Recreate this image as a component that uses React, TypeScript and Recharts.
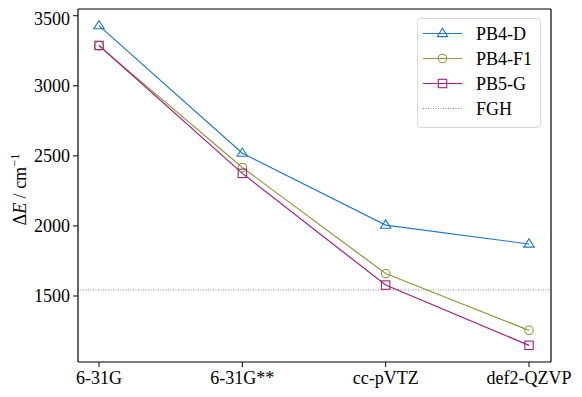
import React from "react";
import { LineChart, Line, XAxis, YAxis, ReferenceLine } from "recharts";

const categories = ["6-31G", "6-31G**", "cc-pVTZ", "def2-QZVP"];
const pb4d = [3429, 2519, 2006, 1871];
const pb4f1 = [3285, 2417, 1660, 1255];
const pb5g = [3288, 2375, 1578, 1148];
const fgh = 1543;
const yTicks = [1500, 2000, 2500, 3000, 3500];

const data = categories.map((c, i) => ({ name: c, d: pb4d[i], f1: pb4f1[i], g: pb5g[i] }));

const BLUE = "#1f78c4";
const OLIVE = "#8a9a3c";
const MAGENTA = "#a0217e";
const FONT = "'Liberation Serif', 'DejaVu Serif', serif";
const YDOMAIN = [1029, 3548];

const Tri = (props: any) => {
  const { cx, cy, stroke } = props;
  if (cx == null || cy == null) return null;
  const r = 5.2;
  return (
    <polygon
      points={`${cx},${cy - r} ${cx - r},${cy + r * 0.6} ${cx + r},${cy + r * 0.6}`}
      fill="none"
      stroke={stroke}
      strokeWidth={1.1}
    />
  );
};
const Circ = (props: any) => {
  const { cx, cy, stroke } = props;
  if (cx == null || cy == null) return null;
  return <circle cx={cx} cy={cy} r={4.3} fill="none" stroke={stroke} strokeWidth={1.1} />;
};
const Sq = (props: any) => {
  const { cx, cy, stroke } = props;
  if (cx == null || cy == null) return null;
  return <rect x={cx - 4.2} y={cy - 4.2} width={8.4} height={8.4} fill="none" stroke={stroke} strokeWidth={1.1} />;
};

const legendItems = [
  { label: "PB4-D", color: BLUE, kind: "tri" },
  { label: "PB4-F1", color: OLIVE, kind: "circ" },
  { label: "PB5-G", color: MAGENTA, kind: "sq" },
  { label: "FGH", color: "#777", kind: "dot" },
];

const LegendBox = () => (
  <div
    style={{
      position: "absolute",
      left: 409,
      top: 10,
      width: 124,
      height: 110,
      border: "1px solid #d8d8d8",
      borderRadius: 4,
      background: "white",
      boxSizing: "border-box",
    }}
  >
    <svg width={124} height={110} style={{ position: "absolute", left: -1, top: -1 }}>
      {legendItems.map((it, i) => {
        const y = 15.5 + i * 25;
        const x0 = 6, x1 = 45, cx = 25.5;
        return (
          <g key={it.label}>
            <line
              x1={x0}
              x2={x1}
              y1={y}
              y2={y}
              stroke={it.color}
              strokeWidth={it.kind === "dot" ? 0.9 : 1.2}
              strokeDasharray={it.kind === "dot" ? "1 1.5" : undefined}
            />
            {it.kind === "tri" && <Tri cx={cx} cy={y} stroke={it.color} />}
            {it.kind === "circ" && <Circ cx={cx} cy={y} stroke={it.color} />}
            {it.kind === "sq" && <Sq cx={cx} cy={y} stroke={it.color} />}
            <text x={59} y={y + 6} fontFamily={FONT} fontSize={18} fill="#000">
              {it.label}
            </text>
          </g>
        );
      })}
    </svg>
  </div>
);

const YLabel = (props: any) => {
  const vb = props.viewBox || {};
  const cy = (vb.y ?? 0) + (vb.height ?? 0) / 2 + 4;
  const x = 18;
  return (
    <text
      x={x}
      y={cy}
      transform={`rotate(-90, ${x}, ${cy})`}
      textAnchor="middle"
      fontFamily={FONT}
      fontSize={18}
      fill="#000"
    >
      <tspan>Δ</tspan>
      <tspan fontStyle="italic">E</tspan>
      <tspan> / cm</tspan>
      <tspan fontSize={12.5} dy={-7}>−1</tspan>
    </text>
  );
};

export default function App() {
  return (
    <div style={{ width: 574, height: 389, position: "relative" }}>
      <LineChart
        width={574}
        height={389}
        data={data}
        margin={{ top: 0, right: 30, bottom: 0, left: 0 }}
      >
        <XAxis
          dataKey="name"
          xAxisId="b"
          padding={{ left: 21, right: 22 }}
          height={35}
          tickLine={{ stroke: "#000" }}
          axisLine={{ stroke: "#000", strokeWidth: 1.2 }}
          tickSize={5}
          tickMargin={4}
          tick={{ fill: "#000", fontFamily: FONT, fontSize: 18 }}
          interval={0}
        />
        <XAxis
          dataKey="name"
          xAxisId="t"
          orientation="top"
          height={1}
          tick={false}
          tickLine={false}
          axisLine={{ stroke: "#000", strokeWidth: 1.2 }}
        />
        <YAxis
          yAxisId="l"
          domain={YDOMAIN}
          ticks={yTicks}
          width={70}
          tickLine={{ stroke: "#000" }}
          axisLine={{ stroke: "#000", strokeWidth: 1.2 }}
          tickSize={5}
          tickMargin={3}
          tick={{ fill: "#000", fontFamily: FONT, fontSize: 18 }}
          label={<YLabel />}
          allowDataOverflow
        />
        <YAxis
          yAxisId="r"
          orientation="right"
          domain={YDOMAIN}
          width={1}
          tick={false}
          tickLine={false}
          axisLine={{ stroke: "#000", strokeWidth: 1.2 }}
        />
        <ReferenceLine
          xAxisId="b"
          yAxisId="l"
          y={fgh}
          stroke="#777"
          strokeWidth={0.9}
          strokeDasharray="1 1.5"
        />
        <Line xAxisId="b" yAxisId="l" dataKey="d" stroke={BLUE} strokeWidth={1.2} dot={<Tri />} isAnimationActive={false} />
        <Line xAxisId="b" yAxisId="l" dataKey="f1" stroke={OLIVE} strokeWidth={1.2} dot={<Circ />} isAnimationActive={false} />
        <Line xAxisId="b" yAxisId="l" dataKey="g" stroke={MAGENTA} strokeWidth={1.2} dot={<Sq />} isAnimationActive={false} />
      </LineChart>
      <LegendBox />
    </div>
  );
}
